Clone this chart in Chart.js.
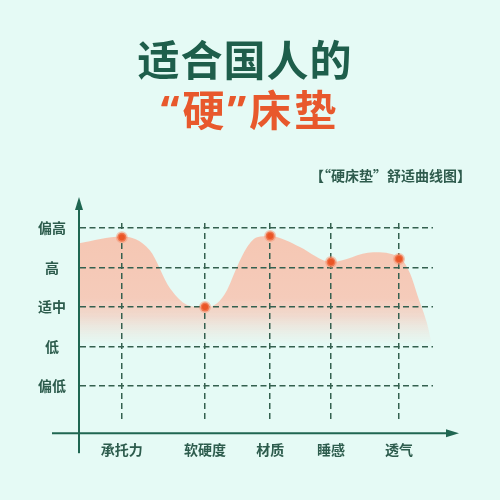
<!DOCTYPE html>
<html>
<head>
<meta charset="utf-8">
<script src="https://cdn.jsdelivr.net/npm/chart.js@4"></script>
<style>
  html, body { margin: 0; padding: 0; }
  body { width: 500px; height: 500px; background: #e5faf5; position: relative; overflow: hidden;
         font-family: 'Noto Sans CJK SC', sans-serif; }
  #mattress { position: absolute; left: 0; top: 0; }
  .head { position: absolute; left: 0; width: 500px; text-align: center; font-size: 42px;
          line-height: 42px; font-weight: 700; white-space: nowrap; }
  #line1 { top: 37px; color: #1e5e4b; letter-spacing: 1px; left: -5px; }
  #line2 { top: 87px; color: #e8582c; letter-spacing: 3px; }
  #line2 .q { font-family: 'Noto Sans', sans-serif; }
  #caption { position: absolute; right: 29px; top: 168px; font-size: 14px; line-height: 14px;
             font-weight: 700; color: #2e5b4d; white-space: nowrap; }
</style>
</head>
<body>
<canvas id="mattress" width="500" height="500"></canvas>
<div class="head" id="line1">适合国人的</div>
<div class="head" id="line2"><span class="q">“</span>硬<span class="q">”</span>床垫</div>
<div id="caption">【“硬床垫”舒适曲线图】</div>
<script>
// comfort levels, bottom to top
const levelLabels = ['偏低', '低', '适中', '高', '偏高'];
const levelValues = [1, 2, 3, 4, 5];

// rated aspects and where they sit on the horizontal axis
const categories = ['承托力', '软硬度', '材质', '睡感', '透气'];
const categoryX = [1.21, 3.56, 5.40, 7.12, 9.04];
const scores = [4.77, 3.0, 4.8, 4.14, 4.22];

// shape of the shaded comfort curve
const curveX = [0, 1.21, 2.0, 2.57, 3.14, 3.56, 3.90, 4.18, 4.46, 4.75, 5.03, 5.40, 5.82, 6.24, 7.12, 8.31, 9.04, 9.35, 9.58, 9.83, 9.97];
const curveY = [4.62, 4.79, 4.44, 3.48, 3.03, 3.0, 3.10, 3.43, 4.01, 4.52, 4.77, 4.8, 4.70, 4.52, 4.14, 4.39, 4.27, 3.86, 3.25, 2.59, 2.04];

const green = '#1f6651';
const gridColor = '#34604f';

Chart.defaults.font.family = "'Noto Sans CJK SC', sans-serif";

const axisArrows = {
    id: 'axisArrows',
    afterDraw(chart) {
        const ctx = chart.ctx;
        const area = chart.chartArea;
        const x0 = area.left;
        const y0 = area.bottom + 10;
        ctx.save();
        ctx.strokeStyle = green;
        ctx.fillStyle = green;
        ctx.lineWidth = 2;
        // vertical axis
        ctx.beginPath();
        ctx.moveTo(x0, y0 + 20);
        ctx.lineTo(x0, area.top - 18);
        ctx.stroke();
        ctx.beginPath();
        ctx.moveTo(x0, area.top - 26);
        ctx.lineTo(x0 - 4, area.top - 13);
        ctx.lineTo(x0 + 4, area.top - 13);
        ctx.closePath();
        ctx.fill();
        // horizontal axis
        ctx.beginPath();
        ctx.moveTo(x0 - 27, y0);
        ctx.lineTo(area.right + 18, y0);
        ctx.stroke();
        ctx.beginPath();
        ctx.moveTo(area.right + 26, y0);
        ctx.lineTo(area.right + 13, y0 - 4);
        ctx.lineTo(area.right + 13, y0 + 4);
        ctx.closePath();
        ctx.fill();
        ctx.restore();
    }
};

const mattress = document.getElementById('mattress');

const mattressChart = new Chart(mattress, {
    type: 'line',
    data: {
        datasets: [{
            data: scores.map((s, i) => ({ x: categoryX[i], y: s })),
            showLine: false,
            pointRadius: 4.5,
            pointHoverRadius: 4.5,
            pointBackgroundColor: '#ea5526',
            pointBorderColor: 'rgba(246, 150, 115, 0.5)',
            pointBorderWidth: 3,
        }, {
            data: curveX.map((x, i) => ({ x: x, y: curveY[i] })),
            cubicInterpolationMode: 'monotone',
            borderColor: 'transparent',
            borderWidth: 0,
            pointRadius: 0,
            fill: 'start',
            backgroundColor: (context) => {
                const { chart } = context;
                const { chartArea, scales } = chart;
                if (!chartArea) return 'rgba(245, 200, 180, 0.9)';
                const top = scales.y.getPixelForValue(5);
                const bottom = scales.y.getPixelForValue(2.05);
                const g = chart.ctx.createLinearGradient(0, top, 0, bottom);
                g.addColorStop(0, 'rgba(245, 198, 178, 1)');
                g.addColorStop(0.6, 'rgba(245, 203, 186, 1)');
                g.addColorStop(0.75, 'rgba(242, 211, 198, 0.85)');
                g.addColorStop(1, 'rgba(240, 225, 215, 0)');
                return g;
            },
        }]
    },
    options: {
        responsive: false,
        animation: false,
        layout: {
            padding: { left: 25, right: 67, top: 223, bottom: 24 }
        },
        scales: {
            x: {
                type: 'linear',
                min: 0,
                max: 10,
                afterBuildTicks: (scale) => {
                    scale.ticks = categoryX.map(v => ({ value: v }));
                },
                ticks: {
                    autoSkip: false,
                    maxRotation: 0,
                    padding: 18,
                    color: '#2d5c4d',
                    font: { size: 14, weight: 'bold' },
                    callback: (value, index) => categories[index],
                },
                grid: {
                    color: gridColor,
                    lineWidth: 1.5,
                    drawTicks: false,
                },
                border: {
                    display: true,
                    color: 'rgba(0, 0, 0, 0)',
                    dash: [6, 4],
                },
            },
            y: {
                min: 0.06,
                max: 5.13,
                afterBuildTicks: (scale) => {
                    scale.ticks = levelValues.map(v => ({ value: v }));
                },
                ticks: {
                    padding: 13,
                    crossAlign: 'center',
                    color: '#2d5c4d',
                    font: { size: 14, weight: 'bold' },
                    callback: (value, index) => levelLabels[index],
                },
                grid: {
                    color: gridColor,
                    lineWidth: 1.5,
                    drawTicks: false,
                },
                border: {
                    display: true,
                    color: green,
                    width: 2,
                    dash: [6, 3.5],
                },
            },
        },
        plugins: {
            legend: { display: false },
            tooltip: { enabled: false },
            filler: { drawTime: 'beforeDraw' },
        },
    },
    plugins: [axisArrows]
});
</script>
</body>
</html>
